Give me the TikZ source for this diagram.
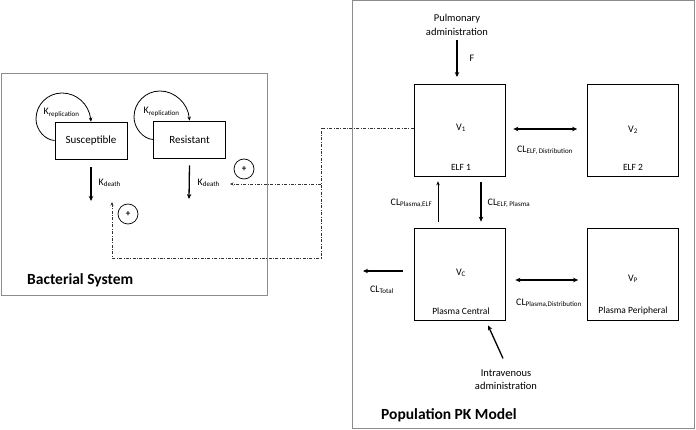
\documentclass[tikz,border=0pt]{standalone}
\usepackage{fontspec}
\setmainfont{Carlito}
\usetikzlibrary{arrows.meta,calc}
\begin{document}
\begin{tikzpicture}[x=1pt,y=-1pt,
  outer/.style={draw=black!45,line width=1pt},
  cbox/.style={draw=black,line width=0.7pt,minimum width=91pt,minimum height=92pt,inner sep=0pt},
  bbox/.style={draw=black,line width=0.7pt,minimum width=72pt,minimum height=37pt,inner sep=0pt,font=\fontsize{11}{12}\selectfont},
  txt/.style={inner sep=0.5pt,font=\fontsize{10}{12}\selectfont},
  boxcap/.style={inner sep=0.5pt,font=\fontsize{9.5}{11}\selectfont},
  titletxt/.style={inner sep=0pt,anchor=west,font=\fontsize{15.5}{18}\selectfont\bfseries},
  arr/.style={-{Stealth[length=5pt,width=4.5pt]},line width=1.3pt},
  thinarr/.style={-{Stealth[length=4pt,width=3.5pt]},line width=0.8pt},
  dblarr/.style={{Stealth[length=5pt,width=4.5pt]}-{Stealth[length=5pt,width=4.5pt]},line width=1.3pt},
  dd/.style={line width=0.7pt,black!80,dash pattern=on 3pt off 1.5pt on 0.8pt off 1.5pt},
  ddarr/.style={dd,-{Stealth[length=3.5pt,width=3pt]}},
  plus/.style={draw=black,line width=0.7pt,circle,minimum size=20pt,inner sep=0pt,font=\fontsize{9}{10}\selectfont\bfseries}
]
\useasboundingbox (0,0) rectangle (696,430);

% outer frames
\draw[outer] (1,74) rectangle (267,296);
\draw[outer] (352,1) rectangle (694,428);

% bacterial system
\node[bbox] (sus) at (91,140.5) {Susceptible};
\node[bbox] (res) at (189.5,139.5) {Resistant};
\draw[thinarr] (sus.west) .. controls (45,140) and (36,130) .. (36,119)
  .. controls (36,104.6) and (47.6,93) .. (62,93)
  .. controls (76.4,93) and (89,104) .. (sus.north);
\draw[thinarr] (res.west) .. controls (143,139) and (134,128) .. (134,117)
  .. controls (134,102.6) and (145.6,91) .. (160,91)
  .. controls (174.4,91) and (188,103) .. (res.north);
\node[txt,anchor=west] (krs) at (43,113) {K\textsubscript{replication}};
\node[txt,anchor=west] (krr) at (143,112) {K\textsubscript{replication}};

\coordinate (sd) at (91,201);
\coordinate (rd) at (189,199);
\draw[arr] ($(sus.south)+(0,8)$) -- (sd);
\draw[arr] ($(res.south)+(0,7)$) -- (rd);
\node[txt,anchor=west] (kds) at (98,183) {K\textsubscript{death}};
\node[txt,anchor=west] (kdr) at (197,183) {K\textsubscript{death}};

\node[plus] (p1) at (244,169) {+};
\node[plus] (p2) at (128,214) {+};

\node[titletxt] (bact) at (27,280) {Bacterial System};

% PK model
\node[cbox] (v1) at (459.5,130) {};
\node[cbox] (v2) at (633,130) {};
\node[cbox] (vc) at (459.5,274) {};
\node[cbox] (vp) at (633,274) {};

\node[txt] (v1l) at (461,128) {V\textsubscript{1}};
\node[boxcap] (e1) at (461,167) {ELF 1};
\node[txt] (v2l) at (633,130) {V\textsubscript{2}};
\node[boxcap] (e2) at (633,167) {ELF 2};
\node[txt] (vcl) at (461,273) {V\textsubscript{C}};
\node[boxcap] (pc) at (461,311) {Plasma Central};
\node[txt] (vpl) at (633,279) {V\textsubscript{P}};
\node[boxcap] (pp) at (633,311) {Plasma Peripheral};

\node[txt,align=center,font=\fontsize{10.5}{14}\selectfont] (pulm) at (457,25) {Pulmonary\\administration};
\draw[arr] (pulm.south |- 0,40) -- (pulm.south |- 0,77);
\node[txt] (f) at (472,58) {F};

\draw[dblarr] ($(v1.east)+(8,-1)$) -- ($(v2.west)+(-10,-1)$);
\node[txt] (cled) at (545,150) {CL\textsubscript{ELF, Distribution}};

\draw[thinarr] ($(vc.north)+(-21.5,-6)$) -- ($(v1.south)+(-21.5,5)$);
\draw[arr] ($(v1.south)+(21.5,6)$) -- ($(vc.north)+(21.5,-6)$);
\node[txt,anchor=east] (clpe) at (433,203) {CL\textsubscript{Plasma,ELF}};
\node[txt,anchor=west] (clep) at (487,203) {CL\textsubscript{ELF, Plasma}};

\draw[dblarr] ($(vc.east)+(10,6)$) -- ($(vp.west)+(-9,6)$);
\node[txt] (clpd) at (549,303) {CL\textsubscript{Plasma,Distribution}};

\coordinate (clt) at (363,271);
\draw[arr] ($(vc.west)+(-11,-3)$) -- (clt);
\node[txt] (cltl) at (382,290) {CL\textsubscript{Total}};

\node[txt,align=center,font=\fontsize{10.5}{13}\selectfont] (iv) at (506,380) {Intravenous\\administration};
\draw[arr] ($(iv.north)+(-3,-11)$) -- ($(vc.south)+(28.5,5)$);

\node[titletxt] (pk) at (381,415) {Population PK Model};

% feedback (dash-dot)
\coordinate (c1) at (321,128);
\coordinate (c2) at (321,258);
\coordinate (c3) at (112,258);
\coordinate (c4) at (112,202);
\coordinate (b1) at (321,184);
\coordinate (b2) at (230,184);
\draw[ddarr] ($(v1.west)+(0,-2)$) -- (c1) -- (c2) -- (c3) -- (c4);
\draw[ddarr] (b1) -- (b2);
\end{tikzpicture}
\end{document}
